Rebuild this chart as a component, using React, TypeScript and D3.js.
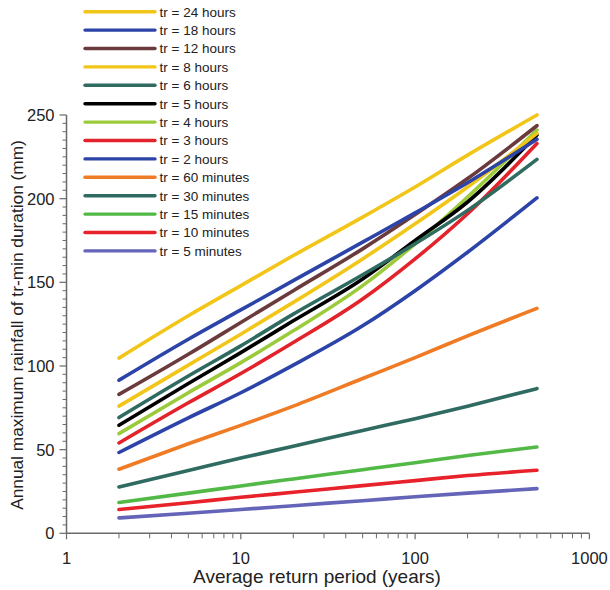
import React from "react";
import * as d3 from "d3";

const periods = [2, 5, 10, 20, 50, 100, 200, 500];

const seriesNames = [
  "tr = 24 hours",
  "tr = 18 hours",
  "tr = 12 hours",
  "tr = 8 hours",
  "tr = 6 hours",
  "tr = 5 hours",
  "tr = 4 hours",
  "tr = 3 hours",
  "tr = 2 hours",
  "tr = 60 minutes",
  "tr = 30 minutes",
  "tr = 15 minutes",
  "tr = 10 minutes",
  "tr = 5 minutes",
];

const h24 = [104.7, 130, 148, 166, 189, 207, 226, 250];
const h18 = [91.5, 116, 133.5, 151, 174, 191.5, 209.5, 235.5];
const h12 = [83, 107, 126, 145, 170, 190.5, 212, 243.6];
const h8 = [76, 100.5, 119, 138, 164, 185, 207, 239];
const h6 = [69.2, 94, 112, 131, 154.5, 173, 193, 223.5];
const h5 = [64.6, 89.5, 108, 127, 152, 175, 198, 238];
const h4 = [59.6, 84, 102, 121, 148, 173, 201, 241];
const h3 = [54, 78, 95.5, 114, 140, 164, 191, 233];
const h2 = [48.3, 69, 84, 100.5, 124, 145, 168, 200.5];
const m60 = [38.3, 53.5, 64.5, 76, 92.5, 105, 118, 134.4];
const m30 = [27.7, 37.5, 45, 52, 61.5, 68.5, 76, 86.5];
const m15 = [18.4, 24, 28.3, 32.5, 38, 42.2, 46.5, 51.6];
const m10 = [14.2, 18.3, 21.5, 24.5, 28.5, 31.5, 34.5, 37.7];
const m5 = [9.2, 12, 14.2, 16.5, 19.5, 21.8, 24, 26.7];

const seriesValues = [h24, h18, h12, h8, h6, h5, h4, h3, h2, m60, m30, m15, m10, m5];

const seriesColors = [
  "#F2C619",
  "#2C44A8",
  "#6B3A3C",
  "#F2C619",
  "#2F6B60",
  "#000000",
  "#9BCB3C",
  "#E3232B",
  "#2C44A8",
  "#F07B25",
  "#2F6B60",
  "#52B947",
  "#E8222A",
  "#6464B8",
];

const yMajorTicks = [0, 50, 100, 150, 200, 250];
const xMajorTicks = [1, 10, 100, 1000];

const W = 610;
const H = 590;

export default function App() {
  const x = d3.scaleLog().domain([1, 1000]).range([66.5, 589.4]);
  const y = d3.scaleLinear().domain([0, 250]).range([533.3, 115]);

  const line = d3
    .line<[number, number]>()
    .x((d) => x(d[0]))
    .y((d) => y(d[1]))
    .curve(d3.curveMonotoneX);

  const yMinor = d3.range(0, 251, 5).filter((v) => v % 50 !== 0);
  const xMinor: number[] = [];
  [1, 10, 100].forEach((dec) => {
    for (let k = 2; k <= 9; k++) xMinor.push(dec * k);
  });

  const axisColor = "#6a6a6a";
  const font = "'Liberation Sans', Arial, sans-serif";

  const legendX1 = 85;
  const legendX2 = 155;
  const legendY0 = 11.7;
  const legendStep = 18.4;

  const order = d3.range(seriesNames.length).reverse();

  return (
    <svg
      width={W}
      height={H}
      style={{ position: "absolute", left: 0, top: 0, background: "#fff" }}
      fontFamily={font}
    >
      <rect x={0} y={0} width={W} height={H} fill="#fff" />
      {order.map((i) => (
        <path
          key={"s" + i}
          d={line(periods.map((p, j) => [p, seriesValues[i][j]] as [number, number])) || ""}
          fill="none"
          stroke={seriesColors[i]}
          strokeWidth={3.6}
          strokeLinecap="round"
          strokeLinejoin="round"
        />
      ))}

      <line x1={x(1)} x2={x(1)} y1={y(0)} y2={y(250)} stroke={axisColor} strokeWidth={1.5} />
      {yMinor.map((v) => (
        <line key={"ym" + v} x1={x(1) - 4} x2={x(1)} y1={y(v)} y2={y(v)} stroke={axisColor} strokeWidth={1} />
      ))}
      {yMajorTicks.map((v) => (
        <g key={"yM" + v}>
          <line x1={x(1) - 7} x2={x(1)} y1={y(v)} y2={y(v)} stroke={axisColor} strokeWidth={1.2} />
          <text x={x(1) - 12} y={y(v)} dy="0.36em" textAnchor="end" fontSize={16.5} fill="#222">
            {v}
          </text>
        </g>
      ))}

      <line x1={x(1)} x2={x(1000)} y1={y(0)} y2={y(0)} stroke={axisColor} strokeWidth={1.5} />
      {xMinor.map((v) => (
        <line key={"xm" + v} x1={x(v)} x2={x(v)} y1={y(0)} y2={y(0) + 5} stroke={axisColor} strokeWidth={1} />
      ))}
      {xMajorTicks.map((v) => (
        <g key={"xM" + v}>
          <line x1={x(v)} x2={x(v)} y1={y(0)} y2={y(0) + 6} stroke={axisColor} strokeWidth={1.2} />
          <text x={x(v)} y={564} textAnchor="middle" fontSize={16.5} fill="#222">
            {v}
          </text>
        </g>
      ))}

      <text x={317} y={582.5} textAnchor="middle" fontSize={19} fill="#222">
        Average return period (years)
      </text>
      <text
        transform={`translate(23,325) rotate(-90)`}
        textAnchor="middle"
        fontSize={17.3}
        fill="#222"
      >
        Annual maximum rainfall of tr-min duration (mm)
      </text>

      {seriesNames.map((name, i) => {
        const ly = legendY0 + i * legendStep;
        return (
          <g key={"lg" + i}>
            <line x1={legendX1} x2={legendX2} y1={ly} y2={ly} stroke={seriesColors[i]} strokeWidth={3.4} strokeLinecap="round" />
            <text x={159.5} y={ly} dy="0.36em" fontSize={13.5} fill="#222">
              {name}
            </text>
          </g>
        );
      })}
    </svg>
  );
}
